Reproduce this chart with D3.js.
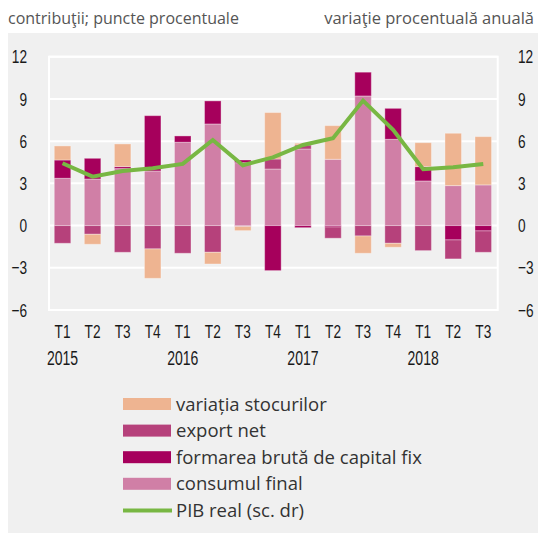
<!DOCTYPE html>
<html>
<head>
<meta charset="utf-8">
<script src="https://cdn.jsdelivr.net/npm/d3@7"></script>
<style>
  body { margin: 0; background: #fff; }
  svg { display: block; }
</style>
</head>
<body>
<div id="chart"></div>
<script>
const quarters = ["T1","T2","T3","T4","T1","T2","T3","T4","T1","T2","T3","T4","T1","T2","T3"]
const years = ["2015","2016","2017","2018"]

const consum  = [3.36, 3.31, 4.05, 3.88, 5.92, 7.22, 4.47, 4.02, 5.44, 4.71, 9.21, 6.13, 3.17, 2.84, 2.89]
const fbcf    = [1.30, 1.47, 0.14, 3.93, 0.45, 1.64, 0.19, -3.20, -0.15, -0.10, 1.69, 2.20, 1.02, -1.02, -0.38]
const exportNet = [-1.26, -0.62, -1.90, -1.66, -1.97, -1.90, -0.07, 0.71, 0.29, -0.80, -0.74, -1.26, -1.78, -1.35, -1.52]
const stocuri = [1.00, -0.71, 1.61, -2.09, 0.00, -0.83, -0.29, 3.30, 0.12, 2.39, -1.23, -0.28, 1.70, 3.72, 3.43]
const pib     = [4.43, 3.48, 3.88, 4.07, 4.38, 6.08, 4.29, 4.85, 5.73, 6.20, 8.88, 6.80, 4.00, 4.14, 4.38]

const yTicks = [-6, -3, 0, 3, 6, 9, 12]

const W = 538, H = 534
const font = "'Open Sans', 'Noto Sans', sans-serif"
// no condensed face installed: squeeze Liberation Sans horizontally instead
const narrow = "'Liberation Sans', Arial, sans-serif"
const squeeze = "scale(0.72,1)"

// stack order matters: same order above and below zero
const series = [
  {key: "consum",  label: "consumul final",                color: "#d07fa6", values: consum},
  {key: "fbcf",    label: "formarea brută de capital fix", color: "#a6005c", values: fbcf},
  {key: "export",  label: "export net",                    color: "#b6417b", values: exportNet},
  {key: "stocuri", label: "variația stocurilor",           color: "#eeb491", values: stocuri}
]
const lineColor = "#78b743"

const rows = quarters.map((q, i) => {
  let r = {i: i}
  series.forEach(s => r[s.key] = s.values[i])
  return r
})

const svg = d3.select("#chart").append("svg")
  .attr("width", W).attr("height", H)

// grey panel
svg.append("rect")
  .attr("x", 8).attr("y", 33)
  .attr("width", W - 8).attr("height", 500)
  .attr("fill", "#f0f0f0")

const plot = {left: 49, right: 497.7, top: 56.7, bottom: 310}

const x = d3.scaleBand()
  .domain(d3.range(quarters.length))
  .range([47.5, 498.3])
  .paddingInner(0.45)
  .paddingOuter(0.225)

const y = d3.scaleLinear()
  .domain([-6, 12])
  .range([plot.bottom, plot.top])

// grid + frame
const grid = svg.append("g").attr("class", "grid")
grid.selectAll("line")
  .data(yTicks)
  .join("line")
  .attr("x1", plot.left).attr("x2", plot.right)
  .attr("y1", d => y(d)).attr("y2", d => y(d))
  .attr("stroke", "#fff")
  .attr("stroke-width", 2)
grid.append("rect")
  .attr("x", plot.left).attr("y", plot.top)
  .attr("width", plot.right - plot.left)
  .attr("height", plot.bottom - plot.top)
  .attr("fill", "none")
  .attr("stroke", "#fff")
  .attr("stroke-width", 2)

// bars
const stacked = d3.stack()
  .keys(series.map(s => s.key))
  .offset(d3.stackOffsetDiverging)(rows)

svg.append("g").attr("class", "bars")
  .selectAll("g")
  .data(stacked)
  .join("g")
  .attr("fill", (d, i) => series[i].color)
  .selectAll("rect")
  .data(d => d.filter(p => p[1] !== p[0]))
  .join("rect")
  .attr("x", d => x(d.data.i))
  .attr("width", x.bandwidth())
  .attr("y", d => y(Math.max(d[0], d[1])))
  .attr("height", d => Math.abs(y(d[0]) - y(d[1])))
  .attr("stroke", "rgba(255,255,255,0.35)")
  .attr("stroke-width", 1)

// PIB line (right axis, same range)
const line = d3.line()
  .x((d, i) => x(i) + x.bandwidth() / 2)
  .y(d => y(d))

svg.append("path")
  .datum(pib)
  .attr("d", line)
  .attr("fill", "none")
  .attr("stroke", lineColor)
  .attr("stroke-width", 4)
  .attr("stroke-linejoin", "miter")

// y axes
const axisLeft = svg.append("g")
  .attr("transform", "translate(27,0)")
  .call(d3.axisLeft(y).tickValues(yTicks).tickSize(0).tickPadding(0))
const axisRight = svg.append("g")
  .attr("transform", "translate(518,0)")
  .call(d3.axisRight(y).tickValues(yTicks).tickSize(0).tickPadding(0))

;[axisLeft, axisRight].forEach(axis => {
  axis.select(".domain").remove()
  axis.selectAll("text")
    .attr("x", 0)
    .attr("transform", squeeze)
    .attr("fill", "#1a1a1a")
    .style("font-family", narrow)
    .style("font-size", "19px")
})

// x axis
const axisBottom = svg.append("g")
  .attr("transform", `translate(0,${plot.bottom})`)
  .call(d3.axisBottom(x).tickFormat(i => quarters[i]).tickSize(0).tickPadding(0))
axisBottom.select(".domain").remove()
axisBottom.selectAll("text")
  .attr("dy", null)
  .attr("y", 28)
  .attr("transform", squeeze)
  .attr("fill", "#1a1a1a")
  .style("font-family", narrow)
  .style("font-size", "19px")

svg.append("g").attr("class", "years")
  .selectAll("text")
  .data(years)
  .join("text")
  .attr("transform", (d, i) => `translate(${x(i * 4) + x.bandwidth() / 2},365) ${squeeze}`)
  .attr("text-anchor", "middle")
  .attr("fill", "#1a1a1a")
  .style("font-family", narrow)
  .style("font-size", "19.5px")
  .text(d => d)

// titles
svg.append("text")
  .attr("x", 8).attr("y", 24)
  .attr("fill", "#555")
  .style("font-family", font)
  .style("font-size", "16px")
  .text("contribuţii; puncte procentuale")
svg.append("text")
  .attr("x", 534).attr("y", 24)
  .attr("text-anchor", "end")
  .attr("fill", "#555")
  .style("font-family", font)
  .style("font-size", "16.5px")
  .text("variaţie procentuală anuală")

// legend
const legendItems = [series[3], series[2], series[1], series[0], {label: "PIB real (sc. dr)", line: true}]
const legend = svg.append("g").attr("class", "legend")
  .selectAll("g")
  .data(legendItems)
  .join("g")
  .attr("transform", (d, i) => `translate(123,${404 + i * 26.6})`)

legend.filter(d => !d.line).append("rect")
  .attr("y", -6).attr("width", 48).attr("height", 12)
  .attr("fill", d => d.color)
legend.filter(d => d.line).append("line")
  .attr("x1", 0).attr("x2", 49)
  .attr("stroke", lineColor)
  .attr("stroke-width", 4)
legend.append("text")
  .attr("x", 53).attr("y", 6.5)
  .attr("fill", "#333")
  .style("font-family", font)
  .style("font-size", "18.5px")
  .text(d => d.label)
</script>
</body>
</html>
